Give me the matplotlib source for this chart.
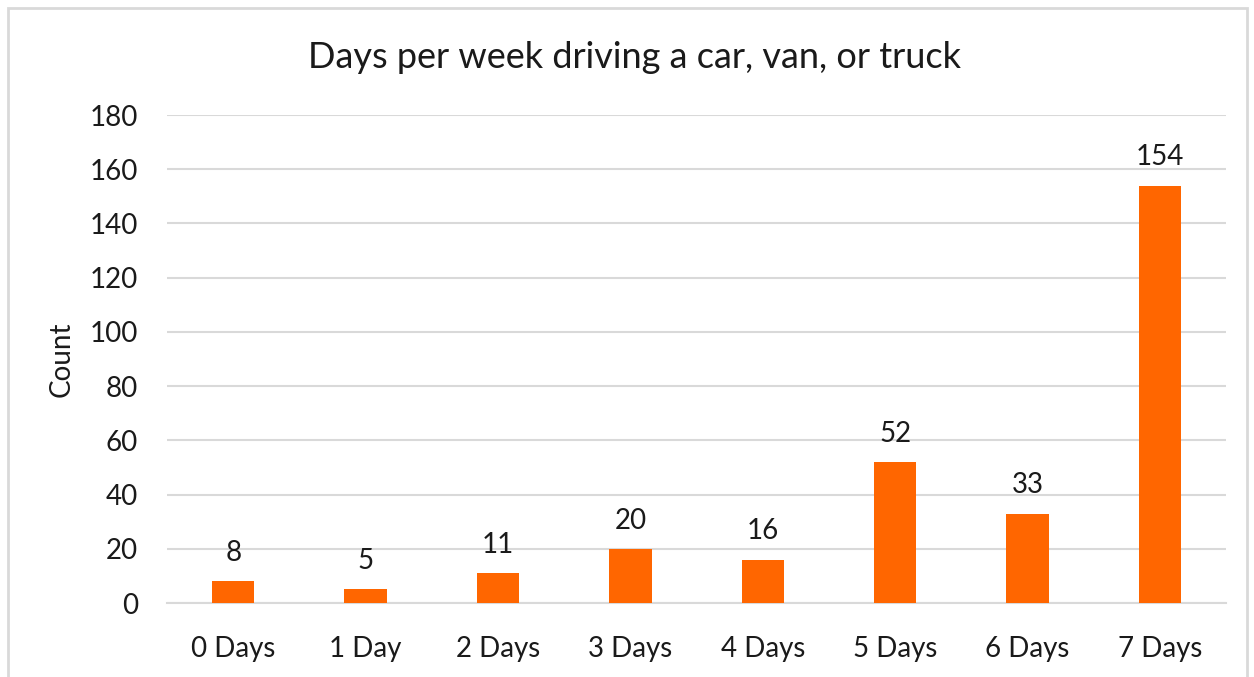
import matplotlib
matplotlib.use("Agg")
import matplotlib.pyplot as plt
from matplotlib.patches import Rectangle

categories = ["0 Days", "1 Day", "2 Days", "3 Days", "4 Days", "5 Days", "6 Days", "7 Days"]
counts = [8, 5, 11, 20, 16, 52, 33, 154]
yticks = [0, 20, 40, 60, 80, 100, 120, 140, 160, 180]

plt.rcParams['font.family'] = ['Lato', 'DejaVu Sans']

fig = plt.figure(figsize=(12.54, 6.77), dpi=100)
ax = fig.add_axes([0.1332, 0.1093, 0.8445, 0.7208])

bars = ax.bar(categories, counts, width=0.32, color='#FF6600', zorder=3)
for b, v in zip(bars, counts):
  ax.annotate(str(v), (b.get_x() + b.get_width() / 2, v), xytext=(0, 11),
              textcoords='offset points', ha='center', va='bottom',
              fontsize=20, color='#1a1a1a')

ax.set_ylim(0, 180)
ax.set_xlim(-0.5, len(categories) - 0.5)
ax.set_yticks(yticks)
ax.yaxis.grid(True, color='#D9D9D9', linewidth=1.5, zorder=0)
ax.tick_params(axis='both', length=0, labelsize=20, colors='#1a1a1a')
ax.tick_params(axis='y', pad=21)
ax.tick_params(axis='x', pad=24)
for s in ['top', 'right', 'left']:
  ax.spines[s].set_visible(False)
ax.spines['bottom'].set_color('#D9D9D9')
ax.spines['bottom'].set_linewidth(1.5)

ax.set_ylabel('Count', fontsize=20, color='#1a1a1a', labelpad=11)
fig.text(0.506, 0.915, 'Days per week driving a car, van, or truck', ha='center', va='center',
         fontsize=26, color='#1a1a1a')

# chart border
fig.patches.append(Rectangle((0.0065, -0.01), 0.988, 0.998, transform=fig.transFigure,
                             fill=False, edgecolor='#D9D9D9', linewidth=2))

fig.savefig('out.png', dpi=100)
